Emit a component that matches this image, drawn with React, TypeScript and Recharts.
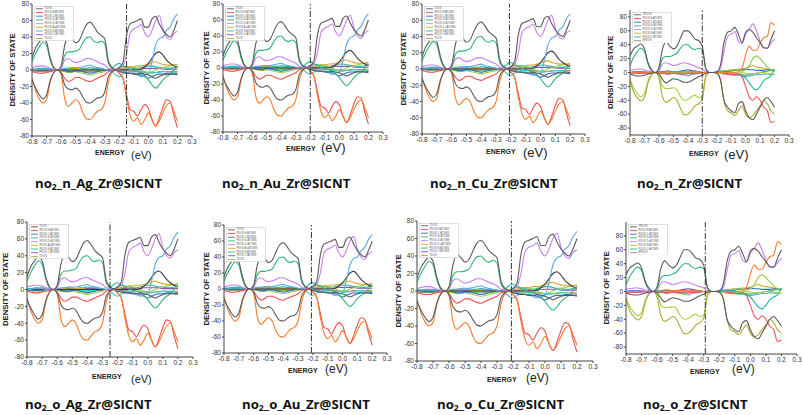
import React from 'react';
import { LineChart, Line, XAxis, YAxis, ReferenceLine, Legend } from 'recharts';

const ENERGY = [-0.8,-0.775,-0.75,-0.725,-0.7,-0.675,-0.65,-0.625,-0.6,-0.575,-0.55,-0.525,-0.5,-0.475,-0.45,-0.425,-0.4,-0.375,-0.35,-0.325,-0.3,-0.275,-0.25,-0.225,-0.2,-0.175,-0.15,-0.125,-0.1,-0.075,-0.05,-0.025,0,0.025,0.05,0.075,0.1,0.125,0.15,0.175,0.2];
const X_TICKS = [-0.8,-0.7,-0.6,-0.5,-0.4,-0.3,-0.2,-0.1,0,0.1,0.2,0.3];
const Y_TICKS = [-80,-60,-40,-20,0,20,40,60,80];

// metal-doped (Ag / Au / Cu) panels
const M_TDOS_UP = [15,27,34,39,34,15,3,0,5,30,42,38,33,36,46,55,58,53,46,42,38,11,3,1,3,9,42,56,58,60,62,52,52,62,65,56,48,43,40,48,60];
const M_TDOS_DN = [-12,-22,-30,-35,-30,-13,-3,0,-4,-18,-23,-24,-22,-25,-33,-39,-40,-37,-34,-33,-27,-8,-2,0,-2,-3,-4,-4,-5,-5,-4,-5,-6,-8,-10,-8,-6,-5,-5,-5,-4];
const M_DARK = [0,0,0,0,0,0,0,0,0,0,0,0,0,0,0,0,0,0,0,0,0,0,0,0,0,0,0,0,0,0,1,4,8,14,20,22,18,12,8,5,3];
const M_ORANGE = [-10,-25,-35,-40,-36,-15,-3,0,-5,-35,-44,-40,-36,-40,-52,-59,-60,-55,-50,-48,-40,-15,-3,0,-4,-10,-35,-55,-62,-58,-66,-60,-52,-60,-68,-62,-52,-43,-40,-50,-62];
const M_RED = [-2,-3,-4,-4,-3,-2,-1,0,-3,-10,-14,-12,-9,-9,-11,-13,-14,-12,-10,-8,-6,-2,-1,0,-4,-10,-30,-48,-50,-56,-48,-42,-46,-60,-68,-58,-45,-36,-38,-55,-70];
const M_GREEN = [10,20,28,34,30,12,2,0,3,18,22,22,23,25,33,39,40,35,33,35,32,8,2,0,3,5,3,1,-1,-2,-4,-7,-12,-18,-22,-18,-12,-8,-5,0,5];
const M_VIOLET = [3,4,5,5,4,2,1,0,2,12,14,11,9,10,12,14,14,12,10,8,6,2,1,0,2,5,20,45,50,52,55,45,40,48,60,66,50,40,37,44,47];
const M_LBLUE = [0,0,1,1,1,0,0,0,1,2,2,3,3,3,4,5,6,4,3,2,1,0,0,0,-1,-2,-3,-4,-5,-6,-8,-6,-5,10,30,38,40,48,52,62,68];
const M_GOLD = [0,0,0,0,0,0,0,0,0,1,1,2,2,1,1,1,0,0,0,0,0,0,0,0,1,2,3,4,4,5,5,6,7,9,10,8,7,6,6,6,6];
const M_BLUE = [0,-1,-1,-1,-1,0,0,0,0,-1,-2,-2,-1,-1,-2,-3,-4,-3,-2,-1,0,0,0,0,-1,-2,-3,-4,-4,-5,-6,-8,-10,-8,-6,-5,-5,-4,-4,-5,-6];
const M_LGREEN = [0,-1,-2,-2,-2,-1,0,0,-1,-2,-3,-3,-2,-3,-4,-5,-6,-5,-4,-3,-2,0,0,0,1,2,3,4,3,2,0,-2,-3,-2,0,2,3,4,5,6,7];
const M_TEAL = [1,1,2,2,2,1,0,0,1,1,2,2,1,1,2,2,3,2,2,1,1,0,2,6,8,5,4,3,2,2,3,4,5,5,4,3,3,2,2,3,4];
const M_CYAN = [0,0,0,0,0,0,0,0,0,0,-1,-1,-1,-1,-1,-1,-1,-1,-1,0,0,0,-2,-6,-8,-5,-3,-2,-2,-2,-3,-3,-4,-4,-3,-3,-2,-2,-2,-3,-4];
const M_OLIVE = [-1,-1,-1,-1,-1,-1,0,0,-1,-1,-2,-2,-1,-1,-2,-2,-2,-2,-1,-1,-1,0,0,0,0,-1,-1,-2,-2,-2,-2,-2,-3,-3,-3,-2,-2,-2,-2,-2,-2];
const M_PURPLE = [1,1,1,1,1,0,0,0,0,1,1,1,1,1,1,1,1,1,1,1,0,0,0,0,0,1,1,1,1,1,1,2,2,2,2,2,1,1,1,1,1];

// pure Zr panels
const Z_TDOS_UP = [24,34,38,41,34,14,4,0,7,34,44,38,34,38,50,60,60,55,48,46,38,5,0,0,1,10,43,58,60,65,55,43,58,62,58,50,43,36,35,48,60];
const Z_GREEN = [10,22,30,35,30,12,2,0,4,20,23,23,25,28,35,40,40,35,33,35,33,5,0,0,1,2,2,1,0,-1,-2,-3,-4,-3,-2,-1,0,1,2,3,4];
const Z_LIME = [0,0,0,0,0,0,0,0,0,0,0,0,0,0,0,0,0,0,0,0,0,0,0,0,0,1,2,3,3,4,3,2,4,10,20,24,20,14,8,4,2];
const Z_VIOLET = [3,4,5,5,4,2,1,0,2,12,14,12,10,11,13,14,13,11,9,7,5,1,0,0,1,5,30,52,55,59,45,42,55,62,70,60,45,35,35,42,48];
const Z_ORANGE = [0,0,0,0,0,0,0,0,0,0,1,1,1,1,1,1,1,1,1,1,0,0,0,0,0,0,0,0,0,0,1,6,25,38,32,32,42,50,52,72,68];
const Z_OLIVE = [-10,-28,-36,-41,-36,-15,-3,0,-8,-35,-43,-40,-36,-40,-52,-61,-60,-55,-48,-45,-38,-5,0,0,-1,-10,-40,-55,-58,-62,-55,-48,-60,-65,-62,-55,-48,-40,-45,-55,-60];
const Z_YG = [-10,-22,-30,-35,-30,-12,-2,0,-4,-20,-23,-23,-22,-25,-35,-40,-39,-35,-33,-36,-34,-5,0,0,0,-1,-2,-2,-2,-2,-1,0,-1,-2,-2,-1,0,0,-1,-2,-3];
const Z_GRAYDN = [-2,-4,-5,-5,-4,-2,-1,0,-2,-10,-15,-12,-9,-10,-12,-14,-14,-12,-9,-6,-4,-1,0,0,-1,-10,-40,-50,-55,-58,-45,-42,-55,-65,-68,-60,-50,-40,-36,-42,-50];
const Z_RED = [0,-1,-1,-1,-1,0,0,0,-1,-1,-2,-2,-1,-1,-2,-2,-2,-1,-1,-1,0,0,0,0,0,0,-1,-2,-3,-3,-2,-6,-20,-35,-40,-35,-40,-50,-55,-72,-70];
const Z_TEAL = [0,0,0,0,0,0,0,0,0,-1,-1,-1,-1,-1,-1,-1,-1,-1,-1,0,0,0,0,0,0,0,-1,-1,-2,-2,-2,-5,-8,-15,-22,-25,-20,-12,-8,-5,5];
const Z_BLUE = [0,1,1,1,1,0,0,0,1,1,2,2,1,1,2,3,4,3,2,1,0,0,0,0,0,0,1,2,2,3,3,4,5,4,4,3,3,3,4,3,2];
const Z_LBLUE = [0,-1,-1,-1,-1,0,0,0,-1,-1,-2,-2,-1,-2,-3,-4,-5,-3,-2,-1,0,0,0,0,0,-1,-2,-3,-3,-4,-4,-5,-6,-5,-4,-3,-3,-2,-2,-3,-3];
const Z_GOLD = [0,0,0,0,0,0,0,0,0,0,1,1,1,1,1,1,1,1,1,0,0,0,0,0,0,1,2,3,4,4,5,5,6,8,10,8,7,6,5,4,3];

const CAPTIONS = ['_n_Ag_Zr@SICNT','_n_Au_Zr@SICNT','_n_Cu_Zr@SICNT','_n_Zr@SICNT','_o_Ag_Zr@SICNT','_o_Au_Zr@SICNT','_o_Cu_Zr@SICNT','_o_Zr@SICNT'];
const METALS = ['Ag','Au','Cu','','Ag','Au','Cu',''];
const FERMI = [-0.15,-0.2,-0.21,-0.3,-0.25,-0.21,-0.21,-0.29];

type S = { key: string; color: string; values: number[]; w?: number };

const METAL_SERIES: S[] = [
  { key: 'purple', color: '#8c4fb5', values: M_PURPLE },
  { key: 'olive', color: '#a8a432', values: M_OLIVE },
  { key: 'cyan', color: '#40c8d0', values: M_CYAN },
  { key: 'teal', color: '#22b8a8', values: M_TEAL },
  { key: 'lgreen', color: '#9ccc4a', values: M_LGREEN },
  { key: 'blue', color: '#2f6fc0', values: M_BLUE },
  { key: 'gold', color: '#d8a62a', values: M_GOLD },
  { key: 'dark', color: '#3a3a3a', values: M_DARK },
  { key: 'green', color: '#2fb573', values: M_GREEN },
  { key: 'lblue', color: '#5ba9e8', values: M_LBLUE },
  { key: 'violet', color: '#c97ff0', values: M_VIOLET },
  { key: 'red', color: '#f04e4e', values: M_RED },
  { key: 'orange', color: '#f77b2c', values: M_ORANGE },
  { key: 'tdn', color: '#5a5a5a', values: M_TDOS_DN },
  { key: 'tup', color: '#5a5a5a', values: M_TDOS_UP },
];

const ZR_SERIES: S[] = [
  { key: 'gold', color: '#d8a62a', values: Z_GOLD },
  { key: 'lblue', color: '#5ba9e8', values: Z_LBLUE },
  { key: 'blue', color: '#2f6fc0', values: Z_BLUE },
  { key: 'teal', color: '#22b8a8', values: Z_TEAL },
  { key: 'lime', color: '#96c83c', values: Z_LIME },
  { key: 'green', color: '#2fb573', values: Z_GREEN },
  { key: 'violet', color: '#c97ff0', values: Z_VIOLET },
  { key: 'yg', color: '#a9cf3c', values: Z_YG },
  { key: 'olive', color: '#b3a732', values: Z_OLIVE },
  { key: 'red', color: '#f04e4e', values: Z_RED },
  { key: 'orange', color: '#f77b2c', values: Z_ORANGE },
  { key: 'tdn', color: '#5a5a5a', values: Z_GRAYDN },
  { key: 'tup', color: '#5a5a5a', values: Z_TDOS_UP },
];

function buildRows(series: S[]) {
  return ENERGY.map((e, i) => {
    const row: Record<string, number> = { e };
    series.forEach((s) => { row[s.key] = s.values[i]; });
    return row;
  });
}
const METAL_ROWS = buildRows(METAL_SERIES);
const ZR_ROWS = buildRows(ZR_SERIES);

function legendEntries(metal: string): [string, string][] {
  if (!metal) {
    return [['TPDOS','#5a5a5a'],['PDOS H ATOMS','#f04e4e'],['PDOS C ATOMS','#2f6fc0'],['PDOS Si ATOMS','#2fb573'],['PDOS Zr ATOMS','#c97ff0'],['PDOS N ATOMS','#d8a62a'],['PDOS O ATOMS','#22b8a8'],['EPDOS','#8a8a8a']];
  }
  return [['TDOS','#5a5a5a'],['PDOS H ATOMS','#f04e4e'],['PDOS C ATOMS','#2f6fc0'],['PDOS Si ATOMS','#2fb573'],['PDOS Zr ATOMS','#c97ff0'],['PDOS ' + metal + ' ATOMS','#d8a62a'],['PDOS N ATOMS','#22b8a8'],['PDOS O ATOMS','#8c4fb5'],['TDOS','#a8a432']];
}

type Cfg = {
  l: number; t: number; r: number; b: number; dom: [number, number];
  enDx: number; enDy: number; evDx: number; evDy: number; evSize: number; yDx: number;
  capX: number; capY: number;
};

const LAYOUT: Cfg[] = [
  { l: 32, t: 4, r: 192, b: 136, dom: [-80, 80], enDx: 63, enDy: 16, evDx: 99, evDy: 19, evSize: 11, yDx: -20, capX: 35, capY: 183 },
  { l: 223, t: 4, r: 383, b: 132, dom: [-80, 80], enDx: 63, enDy: 16, evDx: 98, evDy: 15, evSize: 13, yDx: -17, capX: 222, capY: 183 },
  { l: 422, t: 4, r: 585, b: 134, dom: [-80, 80], enDx: 64, enDy: 17, evDx: 101, evDy: 18, evSize: 13, yDx: -19, capX: 430, capY: 183 },
  { l: 630, t: 10, r: 789, b: 135, dom: [-90, 90], enDx: 59, enDy: 18, evDx: 94, evDy: 19, evSize: 13, yDx: -20, capX: 637, capY: 183 },
  { l: 27, t: 222, r: 193, b: 357, dom: [-80, 80], enDx: 65, enDy: 19, evDx: 104, evDy: 22, evSize: 11, yDx: -22, capX: 25, capY: 404 },
  { l: 224, t: 225, r: 387, b: 353, dom: [-80, 80], enDx: 64, enDy: 17, evDx: 101, evDy: 16, evSize: 12, yDx: -18, capX: 242, capY: 404 },
  { l: 417, t: 221, r: 593, b: 361, dom: [-80, 80], enDx: 70, enDy: 18, evDx: 109, evDy: 17, evSize: 12, yDx: -19, capX: 437, capY: 404 },
  { l: 626, t: 222, r: 797, b: 354, dom: [-90, 100], enDx: 64, enDy: 17, evDx: 106, evDy: 15, evSize: 12, yDx: -20, capX: 643, capY: 404 },
];

const AXIS_FONT = '"Liberation Sans", Arial, sans-serif';
const fmt = (v: number) => (Math.abs(v) < 1e-9 ? 0 : v).toFixed(1);

function Panel({ idx }: { idx: number }) {
  const cfg = LAYOUT[idx];
  const metal = METALS[idx];
  const isZr = metal === '';
  const series = isZr ? ZR_SERIES : METAL_SERIES;
  const rows = isZr ? ZR_ROWS : METAL_ROWS;
  const ML = 30, MT = 6, MR = 10, XH = 30;
  const pw = cfg.r - cfg.l, ph = cfg.b - cfg.t;
  const W = ML + pw + MR, H = MT + ph + XH;
  const entries = legendEntries(metal);
  const legH = entries.length * 3.7 + 2;

  const xLabel = () => (
    <g>
      <text x={ML + cfg.enDx} y={MT + ph + cfg.enDy} dominantBaseline="central" fontSize={7} fontWeight={700} fill="#222" fontFamily={AXIS_FONT}>ENERGY</text>
      <text x={ML + cfg.evDx} y={MT + ph + cfg.evDy} dominantBaseline="central" fontSize={cfg.evSize} fill="#222" fontFamily={AXIS_FONT}>(eV)</text>
    </g>
  );

  const legendContent = () => (
    <svg width={40} height={legH} style={{ display: 'block' }}>
      <rect x={0.5} y={0.5} width={39} height={legH - 1} fill="#fff" stroke="#bbb" strokeWidth={0.5} />
      {entries.map(([name, color], i) => (
        <g key={i}>
          <line x1={2} x2={9} y1={2.8 + i * 3.7} y2={2.8 + i * 3.7} stroke={color} strokeWidth={0.9} />
          <text x={10.5} y={2.8 + i * 3.7} dominantBaseline="central" fontSize={2.6} fill="#555" fontFamily={AXIS_FONT}>{name}</text>
        </g>
      ))}
    </svg>
  );

  return (
    <div style={{ position: 'absolute', left: cfg.l - ML, top: cfg.t - MT, width: W, height: H }}>
      <LineChart width={W} height={H} data={rows} margin={{ top: MT, right: MR, left: 0, bottom: 0 }}>
        <XAxis
          dataKey="e" type="number" domain={[-0.8, 0.3]} ticks={X_TICKS} interval={0} height={XH}
          tickSize={2} tickMargin={1} tickFormatter={fmt} allowDataOverflow stroke="#444"
          tick={{ fontSize: 6.5, fill: '#333', fontFamily: AXIS_FONT }} label={xLabel}
        />
        <XAxis xAxisId="top" orientation="top" dataKey="e" type="number" domain={[-0.8, 0.3]} height={0} tick={false} tickLine={false} stroke="#444" />
        <YAxis
          type="number" domain={cfg.dom} ticks={Y_TICKS} interval={0} width={ML} tickSize={2} tickMargin={1}
          allowDataOverflow stroke="#444" tick={{ fontSize: 6.5, fill: '#333', fontFamily: AXIS_FONT }}
          label={{ value: 'DENSITY OF STATE', angle: -90, position: 'center', dx: cfg.yDx + 15, fontSize: 7.8, fontWeight: 700, fill: '#222', fontFamily: AXIS_FONT }}
        />
        <YAxis yAxisId="r" orientation="right" type="number" domain={cfg.dom} width={0} tick={false} tickLine={false} stroke="#444" />
        {series.map((s) => (
          <Line key={s.key} dataKey={s.key} stroke={s.color} strokeWidth={s.w ?? 1.1} dot={false} type="monotone" isAnimationActive={false} legendType="none" />
        ))}
        <ReferenceLine x={FERMI[idx]} stroke="#333" strokeWidth={1} strokeDasharray="6 2 1.5 2" />
        <Legend content={legendContent} layout="vertical" align="center" verticalAlign="middle" wrapperStyle={{ left: ML + 1.5, top: MT + 1.5, width: 40, height: legH }} />
      </LineChart>
    </div>
  );
}

function Caption({ idx }: { idx: number }) {
  const cfg = LAYOUT[idx];
  return (
    <div style={{ position: 'absolute', left: cfg.capX, top: cfg.capY - 8, height: 16, lineHeight: '16px', fontFamily: '"Open Sans", "Noto Sans", sans-serif', fontWeight: 700, fontSize: 13.2, color: '#111', whiteSpace: 'nowrap' }}>
      no<sub style={{ fontSize: '0.65em', verticalAlign: '-0.2em', lineHeight: 0 }}>2</sub>{CAPTIONS[idx]}
    </div>
  );
}

export default function App() {
  return (
    <div style={{ position: 'absolute', left: 0, top: 0, width: 803, height: 415, background: '#fff', overflow: 'hidden' }}>
      {LAYOUT.map((_, i) => <Panel key={'p' + i} idx={i} />)}
      {LAYOUT.map((_, i) => <Caption key={'c' + i} idx={i} />)}
    </div>
  );
}
